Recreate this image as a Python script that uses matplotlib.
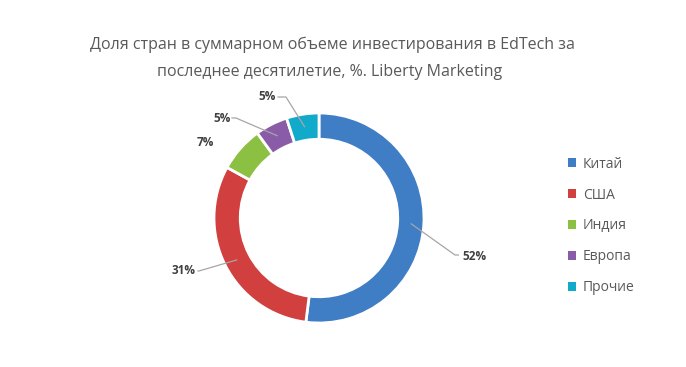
import numpy as np
import matplotlib
matplotlib.use("Agg")
from matplotlib import pyplot as plt

plt.rcParams['font.family'] = ['Open Sans', 'DejaVu Sans']

# data
categories = ["Китай", "США", "Индия", "Европа", "Прочие"]
shares = [52, 31, 7, 5, 5]
colors = ["#3f7dc5", "#d13f3f", "#8cc043", "#8a5ba7", "#12aacb"]
title_line1 = "Доля стран в суммарном объеме инвестирования в EdTech за"
title_line2 = "последнее десятилетие, %. Liberty Marketing"

W, H = 686, 367
fig = plt.figure(figsize=(W / 100, H / 100), dpi=100)

# donut placed in pixel terms: centre (319, 218 from top), outer radius 105 px
cx, cy, R = 319, H - 218, 105
half = 140
ax = fig.add_axes([(cx - half) / W, (cy - half) / H, 2 * half / W, 2 * half / H])

wedges, _ = ax.pie(shares, colors=colors, startangle=90, counterclock=False,
                   radius=1.0, wedgeprops=dict(width=0.25, edgecolor="white", linewidth=2))
lim = half / R
ax.set_xlim(-lim, lim)
ax.set_ylim(-lim, lim)
ax.set_aspect("equal")


def px(x, y):
    # pixel position (from top-left) to data coords
    return (x - 319) / R, (218 - y) / R


# label positions (text anchor, alignment) and leader elbows, in pixels
label_pos = [(462, 257, "left"), (196, 271, "right"), (214, 143, "right"),
             (231, 119, "right"), (276, 97, "right")]
elbows = [[(455, 255), (460, 255)], [(199, 271), (198, 271)], None,
          [(236, 118), (232, 118)], [(286, 97), (278, 97)]]

for w, val, (lx, ly, ha), elb in zip(wedges, shares, label_pos, elbows):
    mid = np.deg2rad((w.theta1 + w.theta2) / 2)
    if elb is not None:
        pts = [(0.88 * np.cos(mid), 0.88 * np.sin(mid))] + [px(*p) for p in elb]
        xs, ys = zip(*pts)
        ax.plot(xs, ys, color="#a6a6a6", lw=0.9, zorder=5)
    tx, ty = px(lx, ly)
    ax.text(tx, ty, f"{val}%", ha=ha, va="center", fontsize=8.5,
            fontweight="bold", color="#404040")

fig.text(332 / W, 1 - 45 / H, title_line1, ha="center", va="center",
         fontsize=11.5, color="#595959")
fig.text(330 / W, 1 - 72 / H, title_line2, ha="center", va="center",
         fontsize=11.5, color="#595959")

leg = fig.legend(wedges, categories, loc="upper left",
                 bbox_to_anchor=(562 / W, 1 - 151 / H), frameon=False,
                 fontsize=10, labelcolor="#595959", handlelength=0.6,
                 handleheight=0.6, handletextpad=0.5, labelspacing=1.15,
                 borderaxespad=0)
for h in leg.legend_handles:
    h.set_edgecolor("none")

fig.savefig("out.png", dpi=100, facecolor="white")
